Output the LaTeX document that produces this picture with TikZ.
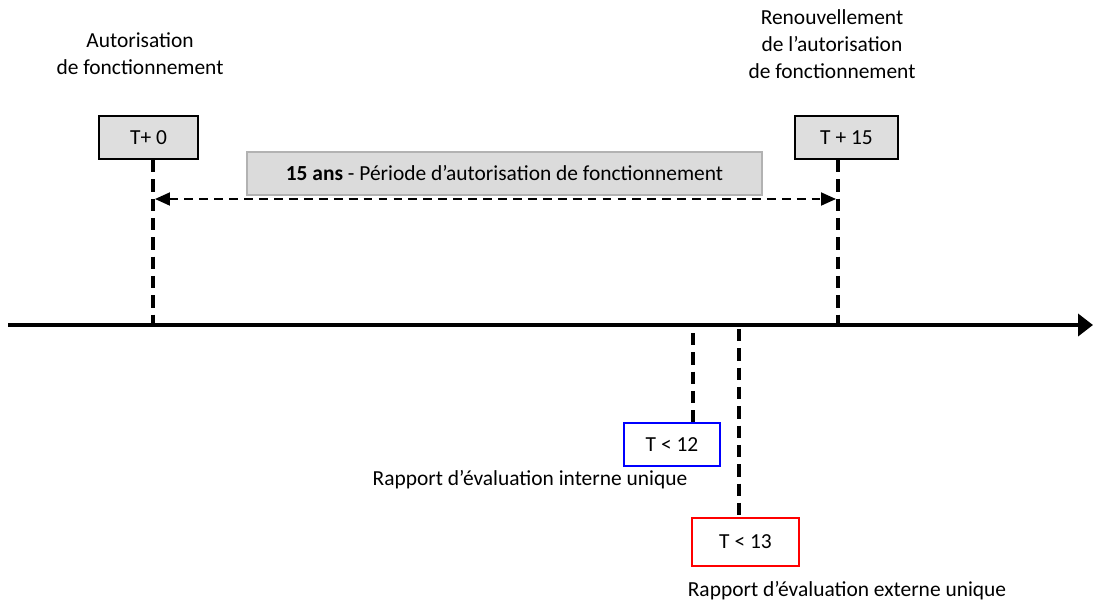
\documentclass[tikz,border=0pt]{standalone}
\usepackage{fontspec}
\setmainfont{Carlito}
\usetikzlibrary{arrows.meta,positioning}

\tikzset{
	datebox/.style={draw, line width=1.2pt, fill=black!13, minimum height=0.86cm, inner sep=0pt},
	limitbox/.style={draw, line width=1.1pt, fill=white, inner sep=0pt},
	periodbox/.style={draw=black!30, line width=1pt, fill=black!14, minimum height=0.86cm, inner sep=0pt},
	markline/.style={line width=1.8pt, dash pattern=on 7pt off 4pt},
	lbl/.style={align=center, inner sep=0pt}
}

\begin{document}
\begin{tikzpicture}[x=0.02cm, y=-0.02cm, font=\fontsize{12.2}{15.3}\selectfont]
		\useasboundingbox (0,0) rectangle (1093,602);
		
		% time axis
		\coordinate (axisL) at (8,325);
		\coordinate (axisR) at (1093,325);
		\draw [line width=2.8pt, -{Triangle[length=0.3cm, width=0.44cm]}] (axisL) -- (axisR);
		
		% T+0
		\node [lbl] (lblstart) at (140,54) {Autorisation\\de fonctionnement};
		\node [datebox, minimum width=1.98cm] (tstart) at (148.5,137.5) {T+ 0};
		\coordinate (tstarttop) at (153,160);
		\coordinate (tstartaxis) at (153,325);
		\draw [markline] (tstarttop) -- (tstartaxis);
		
		% T+15
		\node [lbl] (lblrenew) at (832,44) {Renouvellement\\de l’autorisation\\de fonctionnement};
		\node [datebox, minimum width=2.06cm] (tend) at (846.5,137.5) {T + 15};
		\coordinate (tendtop) at (838,160);
		\coordinate (tendaxis) at (838,325);
		\draw [markline] (tendtop) -- (tendaxis);
		
		% period
		\node [periodbox, minimum width=10.3cm] (period) at (504.5,173.5) {\textbf{15 ans} - Période d’autorisation de fonctionnement};
		\coordinate (periodL) at (155,199);
		\coordinate (periodR) at (836,199);
		\draw [line width=1.1pt, dash pattern=on 5pt off 3.5pt, {Triangle[length=0.3cm, width=0.26cm]}-{Triangle[length=0.3cm, width=0.26cm]}] (periodL) -- (periodR);
		
		% T<12
		\node [limitbox, draw=blue, minimum width=1.92cm, minimum height=0.86cm] (tint) at (672,444.5) {T < 12};
		\node [lbl] (lblint) at (530,480) {Rapport d’évaluation interne unique};
		\coordinate (tintaxis) at (693,333);
		\draw [markline] (tintaxis) -- (tintaxis |- tint.north);
		
		% T<13
		\node [limitbox, draw=red, minimum width=2.14cm, minimum height=0.96cm] (text) at (745.5,542) {T < 13};
		\node [lbl] (lblext) at (847,591) {Rapport d’évaluation externe unique};
		\coordinate (textaxis) at (739,329);
		\draw [markline] (textaxis) -- ([yshift=-2pt]textaxis |- text.north);
		
\end{tikzpicture}
\end{document}
